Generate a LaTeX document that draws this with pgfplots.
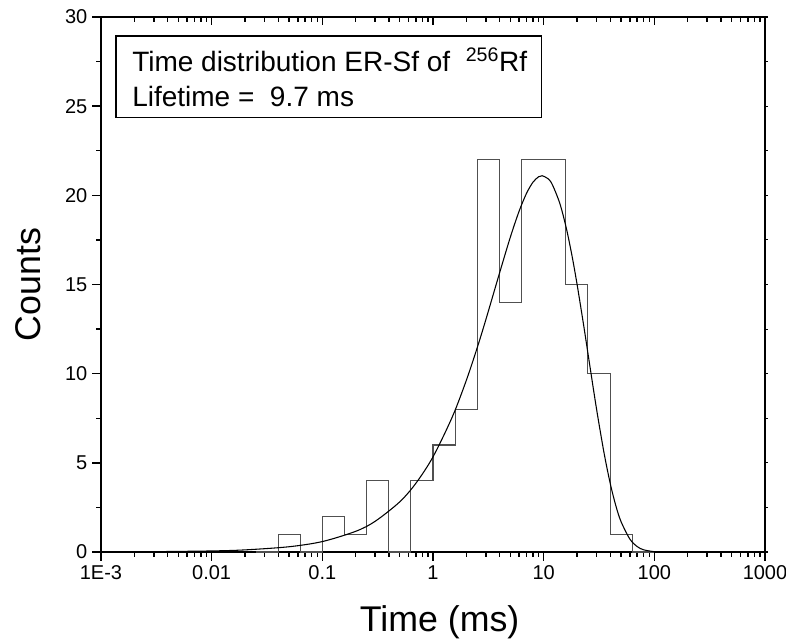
\documentclass[border=0pt]{standalone}
\usepackage{pgfplots}
\pgfplotsset{compat=1.18}
\usepackage{fontspec}
\setmainfont{Liberation Sans}
\definecolor{histgray}{RGB}{80,80,80}
\begin{document}
\begin{tikzpicture}
\begin{axis}[name=ax,
  width=498pt, height=401.25pt, scale only axis,
  xmode=log, xmin=1e-3, xmax=1000, ymin=0, ymax=30,
  xtick={1e-3,1e-2,1e-1,1,10,100,1000},
  ytick={0,5,10,15,20,25,30}, minor y tick num=1,
  /pgf/number format/assume math mode=true,
  tick label style={font=\fontsize{15}{18}\selectfont},
  axis line style={line width=1.5pt},
  every tick/.style={black, line width=1.1pt},
  xtick pos=left, ytick pos=left, tick align=outside,
  major tick length=6.75pt, minor tick length=3.75pt,
  xticklabels={1E-3,0.01,0.1,1,10,100,1000},
  xlabel={Time (ms)}, ylabel={Counts},
  xlabel style={font=\fontsize{26.8}{30}\selectfont, at={(axis description cs:0.51,-0.1495)}, anchor=base},
  ylabel style={font=\fontsize{26.8}{30}\selectfont, at={(axis description cs:-0.110,0.50)}, anchor=center},
  clip=false]
\addplot[const plot mark left, histgray, line width=0.8pt] coordinates {
(0.025119,0) (0.039811,1) (0.063096,0) (0.1,2) (0.15849,1) (0.25119,4)
(0.39811,0) (0.63096,4) (1,6) (1.58489,8) (2.51189,22) (3.98107,14)
(6.30957,22) (10,22) (15.8489,15) (25.1189,10) (39.8107,1) (63.0957,0) (100,0)};
\addplot[black, line width=0.8pt, smooth] coordinates {
(0.003,0.018) (0.01,0.059) (0.02,0.118) (0.05,0.294) (0.1,0.585) (0.2,1.158)
(0.3,1.720) (0.5,2.808) (0.7,3.851) (1,5.333) (1.5,7.598) (2,9.622) (2.5,11.423)
(3,13.019) (4,15.658) (5,17.656) (6,19.111) (7,20.112) (8,20.733) (9,21.041)
(9.7,21.098) (11,20.923) (12,20.590) (14,19.546) (16,18.176) (18,16.638)
(20,15.042) (23,12.700) (26,10.536) (30,8.047) (35,5.610) (40,3.828)
(45,2.572) (50,1.707) (60,0.731) (70,0.304) (80,0.124) (100,0.020) (130,0.001)};
\draw[line width=0.8pt] (axis description cs:0.0226,0.9645) rectangle (axis description cs:0.663,0.813);
\node[anchor=base west, inner sep=0pt, font=\fontsize{21}{24}\selectfont] at (axis description cs:0.0467,0.8972) {Time distribution ER-Sf of\ \ \textsuperscript{256}Rf};
\node[anchor=base west, inner sep=0pt, font=\fontsize{21}{24}\selectfont] at (axis description cs:0.0467,0.8318) {Lifetime =\ \ 9.7 ms};
\end{axis}
\begin{axis}[
  width=498pt, height=401.25pt, scale only axis,
  xmode=log, xmin=1e-3, xmax=1000, ymin=0, ymax=30,
  xtick={1e-3,1e-2,1e-1,1,10,100,1000},
  axis line style={draw=none},
  every tick/.style={black, line width=1.1pt},
  xtick pos=right, ytick=\empty, tick align=inside,
  major tick length=6pt, minor tick length=4pt,
  xticklabels={}]
\end{axis}
\begin{axis}[
  width=498pt, height=401.25pt, scale only axis,
  xmode=log, xmin=1e-3, xmax=1000, ymin=0, ymax=30,
  ytick={0,5,10,15,20,25,30}, minor y tick num=1,
  axis line style={draw=none},
  xtick=\empty, ytick pos=right, tick align=outside,
  major tick length=2pt, minor tick length=2pt,
  every tick/.style={black, line width=0.8pt},
  yticklabels={}]
\end{axis}
\pgfresetboundingbox
\path[use as bounding box] ([xshift=-75.75pt,yshift=-66.75pt]ax.south west) rectangle ([xshift=15.75pt,yshift=12.75pt]ax.north east);
\end{tikzpicture}
\end{document}
